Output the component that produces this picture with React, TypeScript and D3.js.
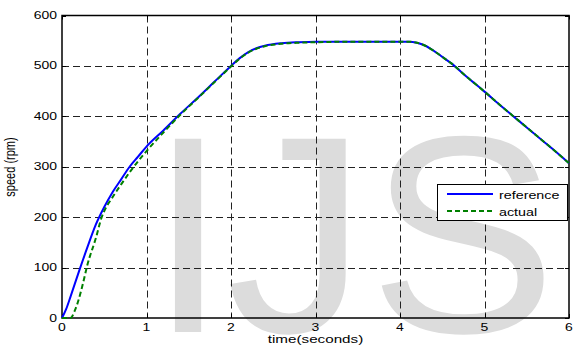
import React, { useEffect, useRef } from "react";
import * as d3 from "d3";

// time in seconds
const timeRef = [0, 0.05, 0.1, 0.2, 0.3, 0.4, 0.5, 0.6, 0.7, 0.8, 0.9, 1.0, 1.2, 1.4, 1.6, 1.8, 2.0, 2.1, 2.2, 2.3, 2.4, 2.6, 2.8, 3.0, 3.5, 4.0, 4.1, 4.2, 4.3, 4.4, 4.5, 4.6, 4.8, 5.0, 5.2, 5.4, 5.6, 5.8, 6.0];
const referenceSpeed = [0, 18, 42, 92, 140, 185, 220, 250, 275, 300, 320, 340, 372, 405, 436, 468, 500, 515, 527, 535, 540, 545, 547, 548, 548, 548, 548, 546, 540, 530, 518, 506, 477, 449, 420, 392, 364, 336, 307];

const timeAct = [0, 0.1, 0.15, 0.2, 0.25, 0.3, 0.4, 0.47, 0.5, 0.6, 0.7, 0.8, 0.9, 1.0, 1.2, 1.4, 1.6, 1.8, 2.0, 2.1, 2.2, 2.3, 2.4, 2.6, 2.8, 3.0, 3.5, 4.0, 4.1, 4.2, 4.3, 4.4, 4.5, 4.6, 4.8, 5.0, 5.2, 5.4, 5.6, 5.8, 6.0];
const actualSpeed = [0, 0, 14, 38, 70, 105, 158, 200, 212, 240, 265, 289, 311, 331, 368, 403, 435, 467, 499, 514, 526, 534, 539, 544, 546, 547, 548, 548, 548, 546, 540, 530, 518, 506, 477, 449, 420, 392, 364, 336, 307];

const xTicks = [0, 1, 2, 3, 4, 5, 6];
const yTicks = [0, 100, 200, 300, 400, 500, 600];

const W = 574;
const H = 347;
const font = "'Liberation Sans', Arial, Helvetica, sans-serif";

const SpeedChart: React.FC = () => {
  const svgRef = useRef<SVGSVGElement>(null);

  useEffect(() => {
    if (!svgRef.current) return;
    const root = d3.select(svgRef.current);
    root.selectAll("*").remove();

    const x = d3.scaleLinear().domain([0, 6]).range([62, 569]);
    const y = d3.scaleLinear().domain([0, 600]).range([318, 15.5]);

    root.append("rect").attr("width", W).attr("height", H).attr("fill", "#fff");

    // watermark
    const wm = root
      .append("g")
      .attr("fill", "#dcdcdc")
      .style("font-family", font)
      .style("font-size", "281px");
    wm.append("text").attr("x", 149).attr("y", 332).text("I");
    wm.append("text").attr("x", 226).attr("y", 332).text("J");
    wm.append("text").attr("x", 369).attr("y", 332).text("S");

    // grid
    const grid = root
      .append("g")
      .attr("stroke", "#222")
      .attr("stroke-width", 1)
      .attr("stroke-dasharray", "7,4");
    grid
      .selectAll(".gx")
      .data(xTicks.slice(1, -1))
      .enter()
      .append("line")
      .attr("x1", (d) => Math.round(x(d)) + 0.5)
      .attr("x2", (d) => Math.round(x(d)) + 0.5)
      .attr("y1", y(600))
      .attr("y2", y(0));
    grid
      .selectAll(".gy")
      .data(yTicks.slice(1, -1))
      .enter()
      .append("line")
      .attr("y1", (d) => Math.round(y(d)) + 0.5)
      .attr("y2", (d) => Math.round(y(d)) + 0.5)
      .attr("x1", x(0))
      .attr("x2", x(6));

    // box
    root
      .append("rect")
      .attr("x", x(0))
      .attr("y", y(600))
      .attr("width", x(6) - x(0))
      .attr("height", y(0) - y(600))
      .attr("fill", "none")
      .attr("stroke", "#000")
      .attr("stroke-width", 1.5);

    // inner ticks
    const ticks = root.append("g").attr("stroke", "#000").attr("stroke-width", 1);
    xTicks.forEach((t) => {
      const px = Math.round(x(t)) + 0.5;
      ticks.append("line").attr("x1", px).attr("x2", px).attr("y1", y(0)).attr("y2", y(0) - 4);
      ticks.append("line").attr("x1", px).attr("x2", px).attr("y1", y(600)).attr("y2", y(600) + 4);
    });
    yTicks.forEach((t) => {
      const py = Math.round(y(t)) + 0.5;
      ticks.append("line").attr("x1", x(0)).attr("x2", x(0) + 4).attr("y1", py).attr("y2", py);
      ticks.append("line").attr("x1", x(6)).attr("x2", x(6) - 4).attr("y1", py).attr("y2", py);
    });

    // tick labels
    const labels = root.append("g").style("font-family", font).style("font-size", "10px").attr("fill", "#000");
    xTicks.forEach((t) => {
      labels
        .append("text")
        .attr("transform", `translate(${x(t)},331) scale(1.4,1)`)
        .attr("text-anchor", "middle")
        .text(t);
    });
    yTicks.forEach((t) => {
      labels
        .append("text")
        .attr("transform", `translate(57,${y(t) + 3.5}) scale(1.4,1)`)
        .attr("text-anchor", "end")
        .text(t);
    });

    root
      .append("text")
      .attr("transform", `translate(${(x(0) + x(6)) / 2},342.5) scale(1.45,1)`)
      .attr("text-anchor", "middle")
      .style("font-family", font)
      .style("font-size", "10.5px")
      .text("time(seconds)");

    root
      .append("text")
      .attr("transform", `translate(15,167) scale(1.3,1) rotate(-90)`)
      .attr("text-anchor", "middle")
      .style("font-family", font)
      .style("font-size", "11px")
      .text("speed (rpm)");

    // curves
    const lineRef = d3
      .line<number>()
      .x((_, i) => x(timeRef[i]))
      .y((d) => y(d))
      .curve(d3.curveMonotoneX);
    const lineAct = d3
      .line<number>()
      .x((_, i) => x(timeAct[i]))
      .y((d) => y(d))
      .curve(d3.curveMonotoneX);

    root
      .append("path")
      .attr("d", lineRef(referenceSpeed))
      .attr("fill", "none")
      .attr("stroke", "#0000ff")
      .attr("stroke-width", 2);
    root
      .append("path")
      .attr("d", lineAct(actualSpeed))
      .attr("fill", "none")
      .attr("stroke", "#008000")
      .attr("stroke-width", 2)
      .attr("stroke-dasharray", "5,3");

    // legend
    const lg = root.append("g");
    lg.append("rect")
      .attr("x", 437.5)
      .attr("y", 184.5)
      .attr("width", 130)
      .attr("height", 36)
      .attr("fill", "#fff")
      .attr("stroke", "#000")
      .attr("stroke-width", 1);
    lg.append("line").attr("x1", 447).attr("x2", 493).attr("y1", 194).attr("y2", 194)
      .attr("stroke", "#0000ff").attr("stroke-width", 2);
    lg.append("line").attr("x1", 447).attr("x2", 493).attr("y1", 211).attr("y2", 211)
      .attr("stroke", "#008000").attr("stroke-width", 2).attr("stroke-dasharray", "5,3");
    lg.append("text")
      .attr("transform", "translate(499,198.5) scale(1.3,1)")
      .style("font-family", font)
      .style("font-size", "11px")
      .text("reference");
    lg.append("text")
      .attr("transform", "translate(499,215.5) scale(1.3,1)")
      .style("font-family", font)
      .style("font-size", "11px")
      .text("actual");
  }, []);

  return (
    <svg
      ref={svgRef}
      width={W}
      height={H}
      style={{ position: "absolute", left: 0, top: 0, display: "block" }}
    />
  );
};

export default function App() {
  return <SpeedChart />;
}
